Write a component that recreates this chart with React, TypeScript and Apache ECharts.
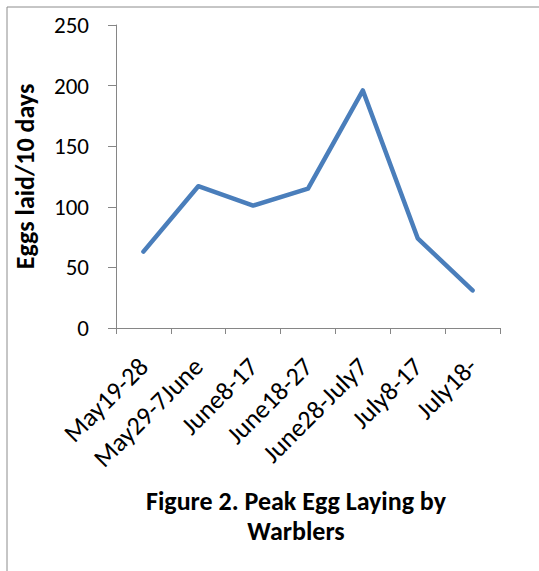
import React, { useEffect, useRef } from "react";
import * as echarts from "echarts";

const categories = [
  "May19-28",
  "May29-7June",
  "June8-17",
  "June18-27",
  "June28-July7",
  "July8-17",
  "July18-",
];
const eggsLaid = [63, 117, 101, 115, 196, 74, 31];
const yTicks = { min: 0, max: 250, interval: 50 };
const titleText = "Figure 2. Peak Egg Laying by\nWarblers";
const yAxisTitle = "Eggs laid/10 days";

const FONT = "Carlito, Calibri, Lato, sans-serif";

export default function App() {
  const ref = useRef<HTMLDivElement>(null);
  useEffect(() => {
    if (!ref.current) return;
    const chart = echarts.init(ref.current, null, { renderer: "svg" });
    chart.setOption({
      animation: false,
      backgroundColor: "#ffffff",
      title: {
        text: titleText,
        left: 291,
        top: 481,
        textAlign: "center",
        textStyle: {
          fontFamily: FONT,
          fontWeight: "bold",
          fontSize: 26,
          lineHeight: 30,
          color: "#000",
        },
      },
      graphic: [
        {
          type: "line",
          shape: { x1: 7, y1: 7, x2: 539, y2: 7 },
          style: { stroke: "#8c8c8c", lineWidth: 1 },
        },
        {
          type: "line",
          shape: { x1: 7, y1: 7, x2: 7, y2: 571 },
          style: { stroke: "#8c8c8c", lineWidth: 1 },
        },
      ],
      grid: { left: 116, top: 25, right: 39, bottom: 243 },
      xAxis: {
        type: "category",
        data: categories,
        boundaryGap: true,
        axisLine: { lineStyle: { color: "#868686", width: 1 } },
        axisTick: { show: true, length: 6, alignWithLabel: false, lineStyle: { color: "#868686" } },
        axisLabel: {
          rotate: 45,
          interval: 0,
          margin: 34,
          fontFamily: FONT,
          fontSize: 26,
          color: "#000",
        },
      },
      yAxis: {
        type: "value",
        min: yTicks.min,
        max: yTicks.max,
        interval: yTicks.interval,
        name: yAxisTitle,
        nameLocation: "middle",
        nameGap: 78,
        nameTextStyle: {
          fontFamily: FONT,
          fontWeight: "bold",
          fontSize: 26,
          color: "#000",
        },
        splitLine: { show: false },
        axisLine: { show: true, lineStyle: { color: "#868686", width: 1 } },
        axisTick: { show: true, length: 8, lineStyle: { color: "#868686" } },
        axisLabel: {
          margin: 27,
          fontFamily: FONT,
          fontSize: 23,
          color: "#000",
        },
      },
      series: [
        {
          type: "line",
          data: eggsLaid,
          symbol: "none",
          lineStyle: { color: "#4a7ebb", width: 4.5, cap: "round", join: "round" },
        },
      ],
    });
    return () => chart.dispose();
  }, []);
  return (
    <div
      ref={ref}
      style={{ position: "absolute", left: 0, top: 0, width: 539, height: 571 }}
    />
  );
}
